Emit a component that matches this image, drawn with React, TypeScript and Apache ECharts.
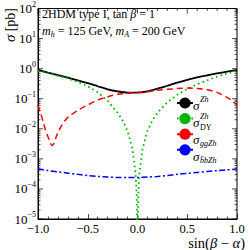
import React, { useEffect, useRef } from "react";
import * as echarts from "echarts";

// sigma^Zh (total)
const xTotal = [-1, -0.9, -0.8, -0.7, -0.6, -0.5, -0.4, -0.3, -0.2, -0.1, 0, 0.1, 0.2, 0.3, 0.4, 0.5, 0.6, 0.7, 0.8, 0.9, 1];
const yTotal = [0.91, 0.74, 0.61, 0.5, 0.41, 0.33, 0.26, 0.205, 0.175, 0.16, 0.16, 0.175, 0.215, 0.27, 0.34, 0.42, 0.51, 0.6, 0.7, 0.8, 0.9];

// sigma^Zh_DY
const xDY = [-1, -0.9, -0.8, -0.7, -0.6, -0.5, -0.4, -0.3, -0.2, -0.15, -0.1, -0.05, -0.02, -0.01, -0.005, 0, 0.005, 0.01, 0.02, 0.05, 0.1, 0.15, 0.2, 0.3, 0.4, 0.5, 0.6, 0.7, 0.8, 0.9, 1];
const yDY = [0.85, 0.71, 0.58, 0.47, 0.36, 0.26, 0.165, 0.085, 0.034, 0.019, 0.0085, 0.0021, 0.00034, 0.000085, 0.000021, 0.000001, 0.000021, 0.000085, 0.00034, 0.0021, 0.0085, 0.019, 0.034, 0.076, 0.135, 0.21, 0.3, 0.41, 0.54, 0.69, 0.85];

// sigma_ggZh
const xGG = [-1, -0.97, -0.95, -0.92, -0.9, -0.88, -0.86, -0.84, -0.82, -0.8, -0.75, -0.7, -0.6, -0.5, -0.4, -0.3, -0.2, -0.1, 0, 0.1, 0.2, 0.3, 0.4, 0.5, 0.6, 0.7, 0.8, 0.9, 0.95, 1];
const yGG = [0.06, 0.03, 0.018, 0.008, 0.0055, 0.0036, 0.0028, 0.0032, 0.005, 0.0075, 0.015, 0.024, 0.041, 0.062, 0.09, 0.115, 0.14, 0.152, 0.162, 0.172, 0.19, 0.205, 0.218, 0.225, 0.22, 0.198, 0.163, 0.11, 0.085, 0.06];

// sigma_bbZh
const xBB = [-1, -0.9, -0.8, -0.7, -0.6, -0.5, -0.4, -0.3, -0.2, -0.1, 0, 0.1, 0.2, 0.3, 0.4, 0.5, 0.6, 0.7, 0.8, 0.9, 1];
const yBB = [0.00046, 0.00041, 0.00037, 0.000335, 0.000305, 0.00028, 0.00026, 0.000248, 0.00024, 0.000238, 0.00024, 0.000248, 0.00026, 0.00028, 0.000305, 0.00033, 0.000355, 0.00038, 0.000405, 0.00043, 0.00046];

const xTicks = [-1, -0.5, 0, 0.5, 1];
const decades = [-5, -4, -3, -2, -1, 0, 1];
const minorMantissas = [2, 3, 4, 5, 6, 7, 8, 9];

const FONT = "Liberation Serif";

const pairs = (xs: number[], ys: number[]) => xs.map((x, i) => [x, ys[i]]);

export default function App() {
  const ref = useRef<HTMLDivElement>(null);
  useEffect(() => {
    if (!ref.current) return;
    const chart = echarts.init(ref.current, null, { renderer: "svg" });
    const xFmt = (v: number) => {
      if (!xTicks.includes(v)) return "";
      const s = v.toFixed(1);
      return v < 0 ? "\u2212" + s.slice(1) : s;
    };
    const yFmt = (v: number) => {
      const e = Math.round(Math.log10(v));
      const es = e < 0 ? "\u2212" + Math.abs(e) : String(e);
      return "{b|10}{s|" + es + "}";
    };
    const yTickVals: number[][] = [];
    decades.forEach((d) => {
      yTickVals.push([Math.pow(10, d), 1]);
      minorMantissas.forEach((m) => yTickVals.push([m * Math.pow(10, d), 0]));
    });
    yTickVals.push([100, 1]);
    const xTickVals: number[][] = [];
    for (let i = 0; i <= 20; i++) {
      const v = Math.round((-1 + i * 0.1) * 10) / 10;
      xTickVals.push([v, i % 5 === 0 ? 1 : 0]);
    }
    const st = { stroke: "#000", lineWidth: 0.7 };
    const txt = (x: number, y: number, text: string, size: number, italic: boolean) => ({
      type: "text", silent: true, x, y,
      style: { text, fontFamily: FONT, fontStyle: italic ? "italic" : "normal", fontSize: size, fill: "#000", verticalAlign: "middle" },
    });

    chart.setOption({
      animation: false,
      tooltip: { show: false },
      grid: { left: 38, right: 12, top: 5, bottom: 31, show: true, borderColor: "#000", borderWidth: 1, backgroundColor: "transparent" },
      legend: {
        show: true,
        orient: "vertical",
        left: 176,
        top: 96,
        itemWidth: 16,
        itemHeight: 14,
        itemGap: 3,
        padding: 0,
        selectedMode: false,
        data: ["total", "DY", "gg", "bb"],
        formatter: () => "",
        textStyle: { fontSize: 1 },
      },
      xAxis: {
        type: "value", min: -1, max: 1, interval: 0.5,
        axisLine: { show: true, onZero: false, lineStyle: { color: "#000", width: 1 } },
        axisTick: { show: true, inside: true, length: 5, lineStyle: { color: "#000", width: 0.7 } },
        minorTick: { show: true, splitNumber: 5, length: 2.5, lineStyle: { color: "#000", width: 0.7 } },
        splitLine: { show: false },
        axisLabel: { show: true, formatter: xFmt, fontFamily: FONT, fontSize: 12.5, color: "#000", margin: 3 },
      },
      yAxis: {
        type: "log", logBase: 10, min: 1e-5, max: 100, interval: 1,
        axisLine: { show: true, onZero: false, lineStyle: { color: "#000", width: 1 } },
        axisTick: { show: false },
        splitLine: { show: false },
        axisLabel: {
          show: true, formatter: yFmt, margin: 2,
          rich: {
            b: { fontFamily: FONT, fontSize: 13, color: "#000" },
            s: { fontFamily: FONT, fontSize: 8, color: "#000", padding: [0, 0, 9, 0] },
          },
        },
      },
      series: [
        {
          name: "yFrameTicks", type: "custom", silent: true, clip: false, data: yTickVals, encode: { y: 0 },
          renderItem: (params: any, api: any) => {
            const v = api.value(0);
            const len = api.value(1) ? 5 : 2.5;
            const p = api.coord([-1, v]);
            const q = api.coord([1, v]);
            return {
              type: "group",
              children: [
                { type: "line", shape: { x1: p[0], y1: p[1], x2: p[0] + len, y2: p[1] }, style: st },
                { type: "line", shape: { x1: q[0] - len, y1: q[1], x2: q[0], y2: q[1] }, style: st },
              ],
            };
          },
        },
        {
          name: "xFrameTicks", type: "custom", silent: true, clip: false, data: xTickVals, encode: { x: 0 },
          renderItem: (params: any, api: any) => {
            const v = api.value(0);
            const len = api.value(1) ? 5 : 2.5;
            const p = api.coord([v, 100]);
            return { type: "line", shape: { x1: p[0], y1: p[1], x2: p[0], y2: p[1] + len }, style: st };
          },
        },
        {
          name: "total", type: "line", silent: true, symbol: "none", data: pairs(xTotal, yTotal), showSymbol: false, smooth: 0.3,
          itemStyle: { color: "#000" },
          lineStyle: { color: "#000", width: 1.8, type: "solid" },
        },
        {
          name: "DY", type: "line", silent: true, symbol: "none", data: pairs(xDY, yDY), showSymbol: false,
          itemStyle: { color: "#00b400" },
          lineStyle: { color: "#00b400", width: 1.8, type: [1.6, 3.2] },
        },
        {
          name: "gg", type: "line", silent: true, symbol: "none", data: pairs(xGG, yGG), showSymbol: false, smooth: 0.3,
          itemStyle: { color: "#ff0000" },
          lineStyle: { color: "#ff0000", width: 1.5, type: [6, 4] },
        },
        {
          name: "bb", type: "line", silent: true, symbol: "none", data: pairs(xBB, yBB), showSymbol: false, smooth: 0.3,
          itemStyle: { color: "#0000ff" },
          lineStyle: { color: "#0000ff", width: 1.5, type: [6, 2.5, 2, 2.5] },
        },
      ],
      graphic: [
        {
          type: "text", x: 10, y: 25, rotation: Math.PI / 2, silent: true,
          style: {
            text: "{i|\u03c3} {n|[pb]}", align: "center", verticalAlign: "middle",
            rich: {
              i: { fontFamily: FONT, fontStyle: "italic", fontSize: 15, fill: "#000" },
              n: { fontFamily: FONT, fontSize: 14, fill: "#000" },
            },
          },
        },
        {
          type: "text", x: 245, y: 243, silent: true,
          style: {
            text: "{n|sin(}{i|\u03b2}{n| \u2212 }{i|\u03b1}{n|)}", align: "right", verticalAlign: "middle",
            rich: {
              i: { fontFamily: FONT, fontStyle: "italic", fontSize: 14.5, fill: "#000" },
              n: { fontFamily: FONT, fontSize: 14.5, fill: "#000" },
            },
          },
        },
        {
          type: "text", x: 42, y: 14, silent: true,
          style: {
            text: "{n|2HDM type I, tan }{i|\u03b2}{n| = 1}", verticalAlign: "middle",
            rich: {
              i: { fontFamily: FONT, fontStyle: "italic", fontSize: 12, fill: "#000" },
              n: { fontFamily: FONT, fontSize: 12, fill: "#000" },
            },
          },
        },
        {
          type: "text", x: 42, y: 31, silent: true,
          style: {
            text: "{i|m}{sub|h}{n| = 125 GeV, }{i|m}{sub|A}{n| = 200 GeV}", verticalAlign: "middle",
            rich: {
              i: { fontFamily: FONT, fontStyle: "italic", fontSize: 12, fill: "#000" },
              n: { fontFamily: FONT, fontSize: 12, fill: "#000" },
              sub: { fontFamily: FONT, fontStyle: "italic", fontSize: 8, fill: "#000", padding: [6, 0, 0, 0] },
            },
          },
        },
        txt(193, 105, "\u03c3", 13, true),
        txt(200, 99, "Zh", 8, true),
        txt(193, 122, "\u03c3", 13, true),
        txt(200, 116, "Zh", 8, true),
        txt(200, 127, "DY", 8, false),
        txt(193, 139, "\u03c3", 13, true),
        txt(200, 143, "ggZh", 8, true),
        txt(193, 156, "\u03c3", 13, true),
        txt(200, 160, "b\u0304bZh", 8, true),
      ],
    });
    return () => chart.dispose();
  }, []);
  return <div ref={ref} style={{ width: 249, height: 250, position: "absolute", left: 0, top: 0 }} />;
}
